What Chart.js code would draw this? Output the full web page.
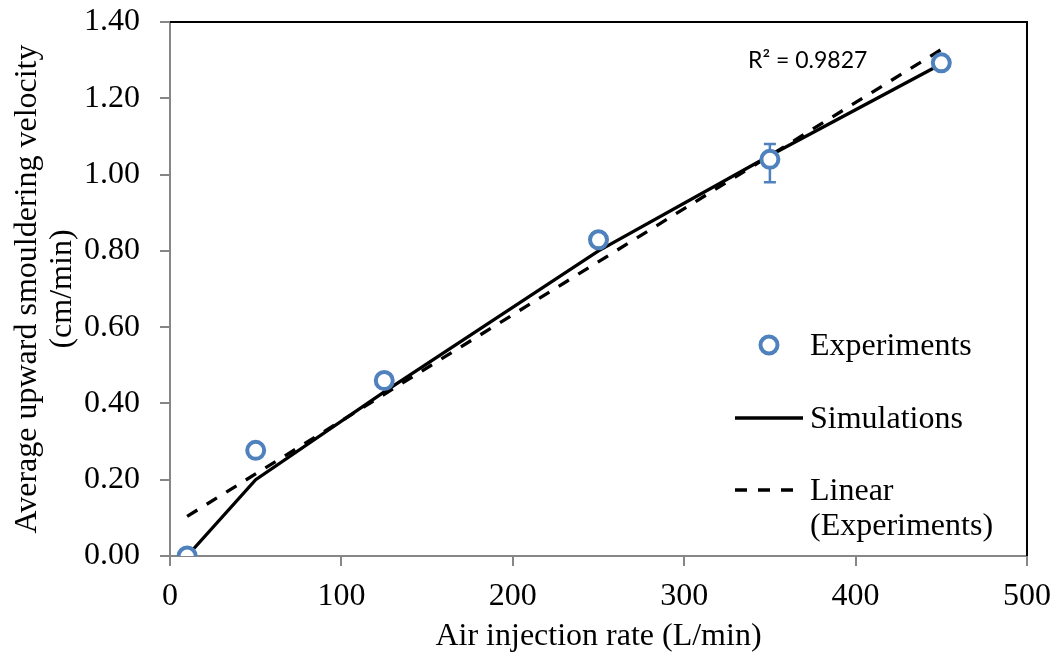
<!DOCTYPE html>
<html>
<head>
<meta charset="utf-8">
<script src="https://cdn.jsdelivr.net/npm/chart.js@4"></script>
<style>
  html, body { margin: 0; padding: 0; background: #fff; }
  #wrap { width: 1058px; height: 656px; }
</style>
</head>
<body>
<div id="wrap"><canvas id="myChart" width="1058" height="656"></canvas></div>
<script>
// Valores
const airRate = [10, 50, 125, 250, 350, 450];
const expVelocity = [0.0, 0.277, 0.46, 0.829, 1.04, 1.293];
const expErrPlus = [0, 0, 0, 0, 0.04, 0];
const expErrMinus = [0, 0, 0, 0, 0.06, 0];
const simRate = [10, 50, 125, 250, 350, 450];
const simVelocity = [0.0, 0.2, 0.43, 0.8, 1.05, 1.29];
const trendRate = [10, 450];
const trendVelocity = [0.104, 1.328];
const r2Label = "R² = 0.9827";
const xTicks = [0, 100, 200, 300, 400, 500];
const yTicks = [0, 0.2, 0.4, 0.6, 0.8, 1.0, 1.2, 1.4];

const blue = "#4F81BD";
const serif = "'Liberation Serif', 'Times New Roman', serif";

function pts(xs, ys) {
  return xs.map((x, i) => ({ x: x, y: ys[i] }));
}

// Barra de erro + moldura + legenda desenhadas à mão
const extras = {
  id: "extras",
  beforeDatasetsDraw(chart) {
    const ctx = chart.ctx;
    const xs = chart.scales.x, ys = chart.scales.y;
    ctx.save();
    ctx.strokeStyle = blue;
    ctx.lineWidth = 2.5;
    airRate.forEach((x, i) => {
      if (!expErrPlus[i] && !expErrMinus[i]) return;
      const px = xs.getPixelForValue(x);
      const top = ys.getPixelForValue(expVelocity[i] + expErrPlus[i]);
      const bot = ys.getPixelForValue(expVelocity[i] - expErrMinus[i]);
      ctx.beginPath();
      ctx.moveTo(px, top); ctx.lineTo(px, bot);
      ctx.moveTo(px - 6, top); ctx.lineTo(px + 6, top);
      ctx.moveTo(px - 6, bot); ctx.lineTo(px + 6, bot);
      ctx.stroke();
    });
    ctx.restore();
  },
  afterDraw(chart) {
    const ctx = chart.ctx;
    const a = chart.chartArea;
    ctx.save();
    // moldura superior e direita
    ctx.strokeStyle = "#000";
    ctx.lineWidth = 2;
    ctx.beginPath();
    ctx.moveTo(a.left, a.top);
    ctx.lineTo(a.right, a.top);
    ctx.lineTo(a.right, a.bottom);
    ctx.stroke();

    // R²
    ctx.fillStyle = "#000";
    ctx.font = "23px Lato, 'Open Sans', sans-serif";
    ctx.textBaseline = "middle";
    ctx.textAlign = "left";
    ctx.fillText(r2Label, 748, 61);

    // legenda
    ctx.font = "32px " + serif;
    ctx.beginPath();
    ctx.arc(769, 345, 8.5, 0, Math.PI * 2);
    ctx.fillStyle = "#fff";
    ctx.fill();
    ctx.strokeStyle = blue;
    ctx.lineWidth = 4;
    ctx.stroke();
    ctx.fillStyle = "#000";
    ctx.fillText("Experiments", 810, 347);

    ctx.strokeStyle = "#000";
    ctx.lineWidth = 3.3;
    ctx.beginPath();
    ctx.moveTo(735, 418); ctx.lineTo(803, 418);
    ctx.stroke();
    ctx.fillText("Simulations", 810, 420);

    ctx.setLineDash([12, 11]);
    ctx.beginPath();
    ctx.moveTo(735, 490); ctx.lineTo(803, 490);
    ctx.stroke();
    ctx.setLineDash([]);
    ctx.fillText("Linear", 810, 492);
    ctx.fillText("(Experiments)", 810, 527);
    ctx.restore();
  }
};

const config = {
  type: "scatter",
  data: {
    datasets: [
      {
        label: "Experiments",
        data: pts(airRate, expVelocity),
        pointStyle: "circle",
        pointRadius: 8.5,
        pointBorderWidth: 4,
        pointBackgroundColor: "#fff",
        pointBorderColor: blue,
        showLine: false,
        order: 0,
      },
      {
        label: "Simulations",
        data: pts(simRate, simVelocity),
        showLine: true,
        borderColor: "#000",
        borderWidth: 3.3,
        pointRadius: 0,
        order: 1,
      },
      {
        label: "Linear (Experiments)",
        data: pts(trendRate, trendVelocity),
        showLine: true,
        borderColor: "#000",
        borderWidth: 3.3,
        borderDash: [12, 11],
        pointRadius: 0,
        order: 2,
      },
    ],
  },
  options: {
    responsive: false,
    animation: false,
    devicePixelRatio: 1,
    layout: { padding: { top: 22, right: 31, left: 0, bottom: 0 } },
    plugins: {
      legend: { display: false },
      tooltip: { enabled: false },
    },
    scales: {
      x: {
        type: "linear",
        min: 0,
        max: 500,
        afterBuildTicks: (s) => { s.ticks = xTicks.map((v) => ({ value: v })); },
        afterFit: (s) => { s.height = 100; s.paddingLeft = 0; s.paddingRight = 0; },
        border: { color: "#868686", width: 2 },
        grid: { drawOnChartArea: false, color: "#868686", tickLength: 10, lineWidth: 2 },
        ticks: {
          color: "#000",
          font: { family: serif, size: 32 },
          padding: 11,
        },
        title: {
          display: true,
          text: "Air injection rate (L/min)",
          color: "#000",
          font: { family: serif, size: 32 },
          padding: { top: 0, bottom: 0 },
        },
      },
      y: {
        type: "linear",
        min: 0,
        max: 1.4,
        afterBuildTicks: (s) => { s.ticks = yTicks.map((v) => ({ value: v })); },
        afterFit: (s) => { s.width = 170; s.paddingTop = 0; s.paddingBottom = 0; },
        border: { color: "#868686", width: 2 },
        grid: { drawOnChartArea: false, color: "#868686", tickLength: 10, lineWidth: 2 },
        ticks: {
          color: "#000",
          font: { family: serif, size: 32 },
          padding: 20,
          callback: (v) => v.toFixed(2),
        },
        title: {
          display: true,
          text: ["Average upward smouldering velocity", "(cm/min)"],
          color: "#000",
          font: { family: serif, size: 32, lineHeight: 1.1 },
          padding: { top: 10, bottom: 0 },
        },
      },
    },
  },
  plugins: [extras],
};

window.onload = function () {
  const ctx = document.getElementById("myChart").getContext("2d");
  const myChart = new Chart(ctx, config);
};
</script>
</body>
</html>
